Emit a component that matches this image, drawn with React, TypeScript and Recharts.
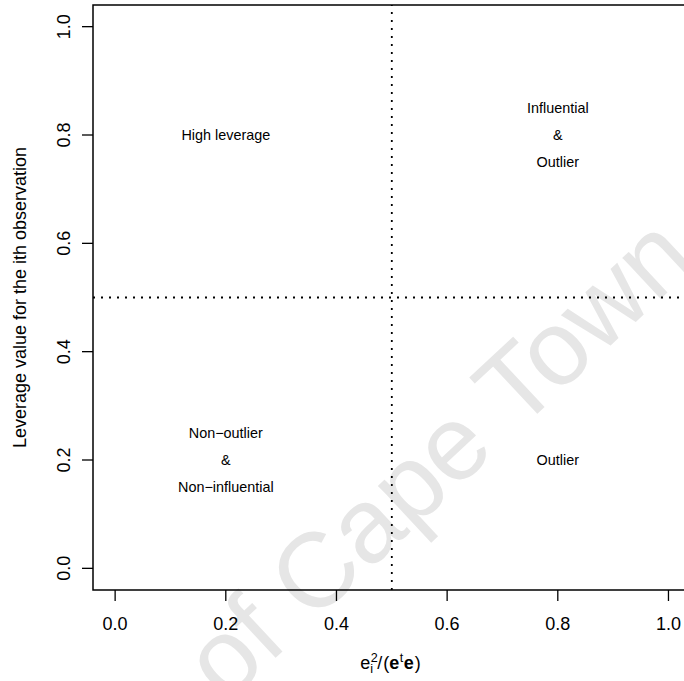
import { ScatterChart, Scatter, XAxis, YAxis, ReferenceLine, ReferenceArea } from "recharts";

// axis ticks and the two cut-offs that split the plane into quadrants
const AXIS_TICKS = [0, 0.2, 0.4, 0.6, 0.8, 1.0];
const RESIDUAL_CUTOFF = 0.5;
const LEVERAGE_CUTOFF = 0.5;

// quadrant captions, one entry per text line
const labelText = [
  "High leverage",
  "Influential",
  "&",
  "Outlier",
  "Non−outlier",
  "&",
  "Non−influential",
  "Outlier",
];
const labelX = [0.2, 0.8, 0.8, 0.8, 0.2, 0.2, 0.2, 0.8];
const labelY = [0.8, 0.85, 0.8, 0.75, 0.25, 0.2, 0.15, 0.2];

const labels = labelText.map((text, i) => ({ x: labelX[i], y: labelY[i], text }));

const DOMAIN: [number, number] = [-0.04, 1.04];
const FONT = "'Liberation Sans', Arial, Helvetica, sans-serif";
const W = 700;
const H = 681;

function XTick({ x, y, payload }: any) {
  return (
    <text x={x} y={y} dy="0.71em" textAnchor="middle" fontSize={18} fontFamily={FONT} fill="#000">
      {Number(payload.value).toFixed(1)}
    </text>
  );
}

function YTick({ x, y, payload }: any) {
  return (
    <text
      transform={`translate(${x},${y}) rotate(-90)`}
      textAnchor="middle"
      fontSize={18}
      fontFamily={FONT}
      fill="#000"
    >
      {Number(payload.value).toFixed(1)}
    </text>
  );
}

// e_i^2 / (e^t e) with the bold vector e
function XTitle({ viewBox }: any) {
  const s = viewBox.x + viewBox.width / 2 - 31.5;
  const b = viewBox.y + 79;
  return (
    <text fontFamily={FONT} fill="#000" fontSize={18}>
      <tspan x={s} y={b}>e</tspan>
      <tspan x={s + 10.5} y={b - 7} fontSize={12.6}>2</tspan>
      <tspan x={s + 10} y={b + 4} fontSize={12.6}>i</tspan>
      <tspan x={s + 17} y={b}>/</tspan>
      <tspan x={s + 23} y={b}>(</tspan>
      <tspan x={s + 29} y={b} fontWeight="bold">e</tspan>
      <tspan x={s + 39.5} y={b - 7} fontSize={12.6}>t</tspan>
      <tspan x={s + 43.5} y={b} fontWeight="bold">e</tspan>
      <tspan x={s + 54.5} y={b}>)</tspan>
    </text>
  );
}

function YTitle({ viewBox }: any) {
  const cy = viewBox.y + viewBox.height / 2;
  return (
    <text
      transform={`translate(26,${cy}) rotate(-90)`}
      textAnchor="middle"
      fontSize={18}
      fontFamily={FONT}
      fill="#000"
    >
      Leverage value for the ith observation
    </text>
  );
}

function Caption(props: any) {
  return (
    <text
      x={props.cx}
      y={props.cy}
      textAnchor="middle"
      dominantBaseline="central"
      fontSize={14.4}
      fontFamily={FONT}
      fill="#000"
    >
      {props.payload.text}
    </text>
  );
}

export default function App() {
  return (
    <div
      style={{
        position: "absolute",
        left: 0,
        top: 0,
        width: 684,
        height: 681,
        overflow: "hidden",
        background: "#fff",
      }}
    >
      <svg width={684} height={681} style={{ position: "absolute", left: 0, top: 0 }}>
        <text
          transform="translate(462,484) rotate(-43)"
          textAnchor="middle"
          fontSize={106}
          fontFamily={FONT}
          fill="#e6e6e6"
        >
          of Cape Town
        </text>
      </svg>
      <div style={{ position: "absolute", left: 0, top: 0 }}>
        <ScatterChart width={W} height={H} margin={{ top: 5, right: 9.4, bottom: 0, left: 0 }}>
          <XAxis
            type="number"
            dataKey="x"
            domain={DOMAIN}
            ticks={AXIS_TICKS}
            allowDataOverflow
            height={91}
            axisLine={false}
            tickSize={11}
            tickMargin={16}
            tickLine={{ stroke: "#000", strokeWidth: 1.3 }}
            tick={<XTick />}
            label={{ content: <XTitle /> }}
          />
          <YAxis
            type="number"
            dataKey="y"
            domain={DOMAIN}
            ticks={AXIS_TICKS}
            allowDataOverflow
            width={93}
            axisLine={false}
            tickSize={11}
            tickMargin={12.5}
            tickLine={{ stroke: "#000", strokeWidth: 1.3 }}
            tick={<YTick />}
            label={{ content: <YTitle /> }}
          />
          <ReferenceArea
            x1={DOMAIN[0]}
            x2={DOMAIN[1]}
            y1={DOMAIN[0]}
            y2={DOMAIN[1]}
            fill="none"
            fillOpacity={0}
            stroke="#000"
            strokeWidth={1.5}
            ifOverflow="visible"
          />
          <ReferenceLine x={RESIDUAL_CUTOFF} stroke="#000" strokeWidth={1.8} strokeDasharray="2 6" />
          <ReferenceLine y={LEVERAGE_CUTOFF} stroke="#000" strokeWidth={1.8} strokeDasharray="2 6" />
          <Scatter data={labels} shape={<Caption />} isAnimationActive={false} />
        </ScatterChart>
      </div>
    </div>
  );
}
